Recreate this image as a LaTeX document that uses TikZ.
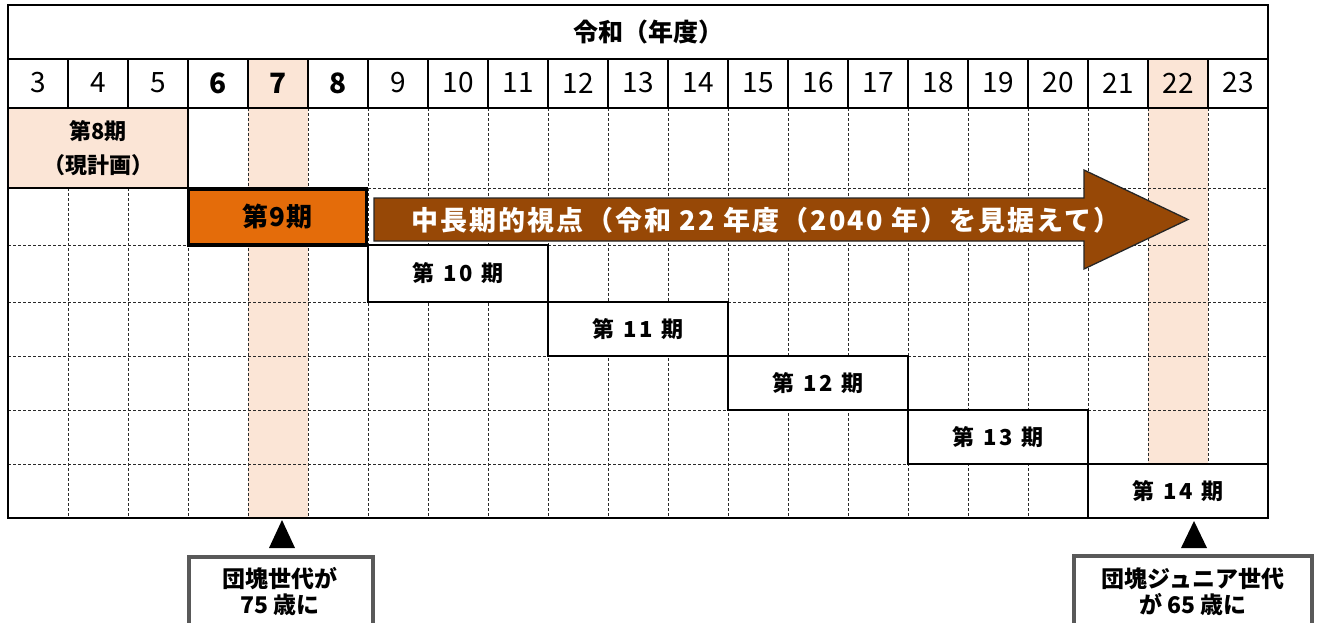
\documentclass[tikz,border=0pt]{standalone}
\usepackage{fontspec}
\setmainfont{Noto Sans CJK JP}
\definecolor{peach}{HTML}{FBE5D6}
\definecolor{orangebox}{HTML}{E46C0A}
\definecolor{brownarrow}{HTML}{974806}
\definecolor{calloutgray}{HTML}{595959}
\definecolor{gridgray}{HTML}{2A2A2A}
\begin{document}
\begin{tikzpicture}[x=1pt,y=-1pt,
  gridline/.style={gridgray, line width=0.9pt, dash pattern=on 3pt off 2pt},
  solidline/.style={black, line width=1.8pt},
  period/.style={draw=black, line width=1.8pt, fill=white, inner sep=0pt,
    minimum width=180pt, font=\fontsize{22}{24}\selectfont\bfseries\addfontfeature{LetterSpace=14}},
  yearlbl/.style={inner sep=0pt, font=\fontsize{28}{30}\selectfont},
  yearbold/.style={inner sep=0pt, font=\fontsize{28}{30}\selectfont\bfseries},
  calloutbox/.style={draw=calloutgray, line width=4pt, fill=white, inner sep=0pt},
  callouttext/.style={align=center, inner sep=0pt, font=\fontsize{23}{26}\selectfont\bfseries},
  pointer/.style={fill=black},
]
\useasboundingbox (0,0) rectangle (1319,622);
\clip (0,0) rectangle (1319,622);
\fill[white] (0,0) rectangle (1319,622);

% highlighted columns
\fill[peach] (248,59) rectangle (308,518);
\fill[peach] (1148,59) rectangle (1208,464);
% 8th period cell
\fill[peach] (8,108) rectangle (188,188);

% dashed grid
\foreach \i in {1,2} { \draw[gridline] (8+60*\i,188) -- (8+60*\i,518); }
\foreach \i in {3,...,20} { \draw[gridline] (8+60*\i,108) -- (8+60*\i,518); }
\draw[gridline] (188,188) -- (1268,188);
\foreach \yy in {245,302,356,410,464} { \draw[gridline] (8,\yy) -- (1268,\yy); }

% header lines
\draw[solidline] (8,59) -- (1268,59);
\draw[solidline] (8,108) -- (1268,108);
\foreach \i in {1,...,20} { \draw[solidline] (8+60*\i,59) -- (8+60*\i,108); }
\draw[solidline] (188,108) -- (188,188) -- (8,188);

% title and years
\node[inner sep=0pt, font=\fontsize{25}{28}\selectfont\bfseries] (title) at (648,32) {令和（年度）};
\foreach \k in {3,4,5,9,10,11,12,13,14,15,16,17,18,19,20,21,22,23} {
  \node[yearlbl] (yr\k) at (38+60*\k-180,83) {\k};
}
\foreach \k in {6,7,8} {
  \node[yearbold] (yr\k) at (38+60*\k-180,83) {\k};
}

% periods
\node[align=center, inner sep=0pt, font=\fontsize{22}{34}\selectfont\bfseries] (p8) at (98,148) {第8期\\（現計画）};
\node[draw=black, line width=3.2pt, fill=orangebox, inner sep=0pt, minimum width=178pt, minimum height=56pt,
  font=\fontsize{26}{28}\selectfont\bfseries\addfontfeature{LetterSpace=6}] (p9) at (277.5,217) {第9期};
\node[period, minimum height=57pt] (p10) at (458,273.5) {第 10 期};
\node[period, minimum height=54pt] (p11) at (638,329) {第 11 期};
\node[period, minimum height=54pt] (p12) at (818,383) {第 12 期};
\node[period, minimum height=54pt] (p13) at (998,437) {第 13 期};
\node[period, minimum height=54pt] (p14) at (1178,491) {第 14 期};

% outer border
\draw[black, line width=2.5pt] (8,5) rectangle (1268,518);

% big arrow
\coordinate (a0) at (374,198);
\coordinate (a1) at (1084,198);
\coordinate (a2) at (1084,170);
\coordinate (tip) at (1188,219.5);
\coordinate (a4) at (1084,269);
\coordinate (a5) at (1084,241);
\coordinate (a6) at (374,241);
\draw[fill=brownarrow, draw=black!85, line width=1.3pt, line join=miter]
  (a0) -- (a1) -- (a2) -- (tip) -- (a4) -- (a5) -- (a6) -- cycle;
\node[text=white, inner sep=0pt, font=\fontsize{27}{28}\selectfont\bfseries\addfontfeature{LetterSpace=8}]
  (arrowtext) at (766,220) {中長期的視点（令和 22 年度（2040 年）を見据えて）};

% callouts
\node[calloutbox, minimum width=184pt, minimum height=100pt, anchor=north] (c1box) at (280.5,555) {};
\node[callouttext] (c1) at (280,592) {団塊世代が\\75 歳に};
\coordinate (t1) at (282,520);
\fill[pointer] (t1) -- (295,548) -- (269,548) -- cycle;

\node[calloutbox, minimum width=238pt, minimum height=100pt, anchor=north] (c2box) at (1192.5,554) {};
\node[callouttext] (c2) at (1193,592) {団塊ジュニア世代\\が 65 歳に};
\coordinate (t2) at (1194,521);
\fill[pointer] (t2) -- (1207,548) -- (1181,548) -- cycle;
\end{tikzpicture}
\end{document}
